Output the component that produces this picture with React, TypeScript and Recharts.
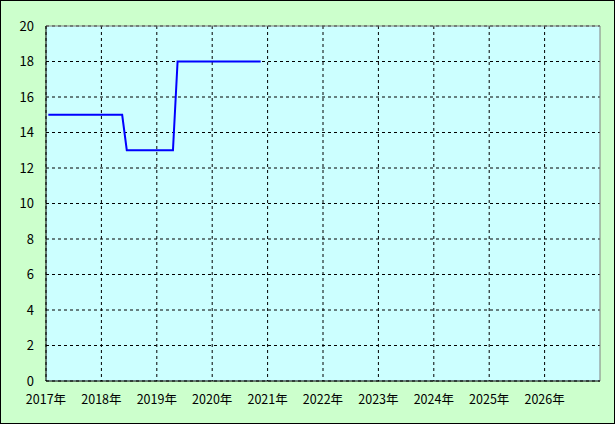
import React from "react";
import {
  LineChart,
  Line,
  XAxis,
  YAxis,
  CartesianGrid,
  ReferenceLine,
} from "recharts";

// monthly values, Jan..Dec (2020 ends in Nov)
const values2017 = [15, 15, 15, 15, 15, 15, 15, 15, 15, 15, 15, 15];
const values2018 = [15, 15, 15, 15, 15, 13, 13, 13, 13, 13, 13, 13];
const values2019 = [13, 13, 13, 13, 18, 18, 18, 18, 18, 18, 18, 18];
const values2020 = [18, 18, 18, 18, 18, 18, 18, 18, 18, 18, 18];

const years = [2017, 2018, 2019, 2020];
const seriesByYear = [values2017, values2018, values2019, values2020];

const xTicks = [2017, 2018, 2019, 2020, 2021, 2022, 2023, 2024, 2025, 2026];
const xTickLabels = [
  "2017年",
  "2018年",
  "2019年",
  "2020年",
  "2021年",
  "2022年",
  "2023年",
  "2024年",
  "2025年",
  "2026年",
];
const yTicks = [0, 2, 4, 6, 8, 10, 12, 14, 16, 18, 20];

// month m (0-based) sits in the middle of its slot within the year
const data = years.flatMap((year, i) =>
  seriesByYear[i].map((v, m) => ({ t: year + (m + 0.5) / 12, value: v }))
);

const font = "'Noto Sans CJK JP', 'DejaVu Sans', sans-serif";

export default function App() {
  return (
    <div
      style={{
        position: "absolute",
        left: 0,
        top: 0,
        width: 615,
        height: 424,
        boxSizing: "border-box",
        border: "1px solid #000",
        background: "#ccffcc",
        fontFamily: font,
      }}
    >
      <LineChart
        width={613}
        height={422}
        data={data}
        margin={{ top: 25, right: 14, bottom: 0, left: 0 }}
      >
        <CartesianGrid
          stroke="#000"
          strokeDasharray="3 3"
          fill="#ccffff"
          fillOpacity={1}
          verticalValues={xTicks}
          horizontalValues={yTicks}
        />
        <XAxis
          type="number"
          dataKey="t"
          domain={[2017, 2027]}
          ticks={xTicks}
          tickFormatter={(v: number) => xTickLabels[xTicks.indexOf(v)] ?? ""}
          height={42}
          tickLine={false}
          tickSize={0}
          tickMargin={14}
          axisLine={{ stroke: "#000", strokeWidth: 1 }}
          tick={{ fontSize: 12.5, fill: "#000", fontFamily: font }}
          interval={0}
        />
        <YAxis
          type="number"
          domain={[0, 20]}
          ticks={yTicks}
          width={45}
          tickLine={false}
          tickSize={0}
          tickMargin={12}
          axisLine={{ stroke: "#000", strokeWidth: 1 }}
          tick={{ fontSize: 13, fill: "#000", fontFamily: font }}
          interval={0}
        />
        <ReferenceLine y={20} stroke="#808080" strokeWidth={1} />
        <ReferenceLine x={2027} stroke="#808080" strokeWidth={1} />
        <Line
          type="linear"
          dataKey="value"
          stroke="#0000ff"
          strokeWidth={2}
          dot={false}
          isAnimationActive={false}
        />
      </LineChart>
    </div>
  );
}
